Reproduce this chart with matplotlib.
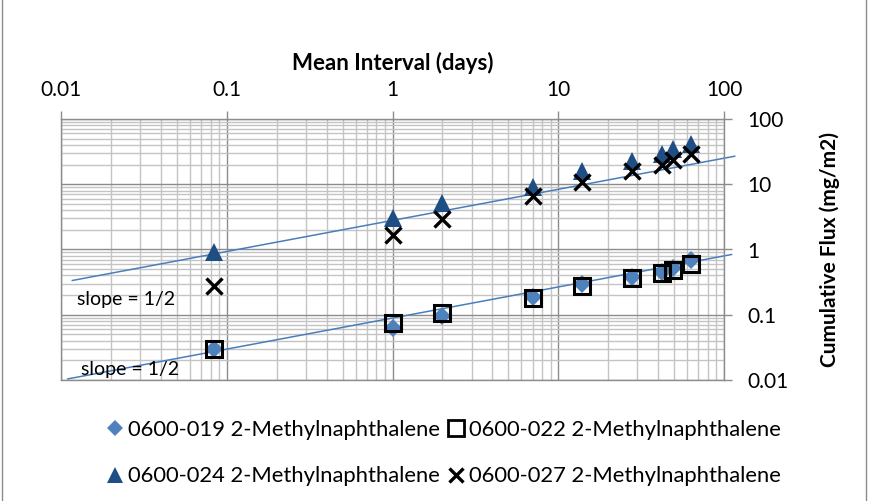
import matplotlib
matplotlib.use("Agg")
import matplotlib.pyplot as plt
from matplotlib.lines import Line2D
from matplotlib.ticker import FixedLocator, LogLocator, NullFormatter

plt.rcParams['font.family'] = ['Lato', 'DejaVu Sans']

# Mean sampling interval (days) and cumulative flux (mg/m2) per sample
interval_days = [0.0833, 1, 2, 7, 14, 28, 42, 49, 63]
flux_019 = [0.030, 0.063, 0.095, 0.188, 0.30, 0.38, 0.455, 0.52, 0.685]
flux_022 = [0.030, 0.074, 0.106, 0.18, 0.277, 0.363, 0.43, 0.49, 0.61]
flux_024 = [0.90, 3.0, 5.25, 9.0, 16.0, 23.0, 29.0, 35.0, 42.0]
flux_027 = [0.28, 1.64, 2.95, 6.56, 10.7, 15.8, 19.6, 23.9, 28.6]

series_labels = [
    "0600-019 2-Methylnaphthalene",
    "0600-022 2-Methylnaphthalene",
    "0600-024 2-Methylnaphthalene",
    "0600-027 2-Methylnaphthalene",
]

tick_values = [0.01, 0.1, 1, 10, 100]
tick_labels = ["0.01", "0.1", "1", "10", "100"]

# Half-slope reference lines (end points in data units)
guide_upper_x = [0.0117, 116.0]
guide_upper_y = [0.335, 26.9]
guide_lower_x = [0.0110, 111.0]
guide_lower_y = [0.0104, 0.838]
guide_text = "slope = 1/2"

fig = plt.figure(figsize=(8.72, 5.01), dpi=100)
ax = fig.add_axes([61 / 872, 1 - 380 / 501, 663 / 872, 261 / 501])
ax.set_xscale('log')
ax.set_yscale('log')
ax.set_xlim(0.01, 100)
ax.set_ylim(0.01, 100)

major_grid = '#8c8c8c'
minor_grid = '#c4c4c4'

ax.xaxis.set_major_locator(FixedLocator(tick_values))
ax.yaxis.set_major_locator(FixedLocator(tick_values))
ax.set_xticklabels(tick_labels)
ax.set_yticklabels(tick_labels)
ax.xaxis.set_minor_locator(LogLocator(base=10, subs=range(2, 10)))
ax.yaxis.set_minor_locator(LogLocator(base=10, subs=range(2, 10)))
ax.xaxis.set_minor_formatter(NullFormatter())
ax.yaxis.set_minor_formatter(NullFormatter())

ax.grid(which='minor', color=minor_grid, linewidth=1.0, zorder=0)
ax.grid(which='major', color=major_grid, linewidth=1.0, zorder=0)
ax.set_axisbelow(True)

for s in ax.spines.values():
    s.set_color(major_grid)
    s.set_linewidth(1.0)

ax.xaxis.tick_top()
ax.yaxis.tick_right()
ax.tick_params(which='major', direction='out', length=6, width=1.0,
               color=major_grid, labelsize=15, labelcolor='black')
ax.tick_params(axis='x', which='major', pad=8)
ax.tick_params(axis='y', which='major', pad=11)
ax.tick_params(which='minor', length=0)

ax.xaxis.set_label_position('top')
ax.set_xlabel("Mean Interval (days)", fontsize=16, fontweight='bold', labelpad=7)
ax.yaxis.set_label_position('right')
ax.set_ylabel("Cumulative Flux (mg/m2)", fontsize=15, fontweight='bold',
              labelpad=22, rotation=90)

# Series
ax.plot(interval_days, flux_019, linestyle='none', marker='D', markersize=9,
        color='#4f81bd', markeredgewidth=0, label=series_labels[0], zorder=3)
ax.plot(interval_days, flux_022, linestyle='none', marker='s', markersize=12,
        markerfacecolor='none', markeredgecolor='black', markeredgewidth=2.2,
        label=series_labels[1], zorder=4)
ax.plot(interval_days, flux_024, linestyle='none', marker='^', markersize=13,
        color='#1f4e85', markeredgewidth=0, label=series_labels[2], zorder=3)
ax.plot(interval_days, flux_027, linestyle='none', marker='x', markersize=11,
        color='black', markeredgewidth=2.4, label=series_labels[3], zorder=4)

# Guide lines
ax.plot(guide_upper_x, guide_upper_y, color='#4a7ebb', linewidth=1.1,
        clip_on=False, zorder=2)
ax.plot(guide_lower_x, guide_lower_y, color='#4a7ebb', linewidth=1.1,
        clip_on=False, zorder=2)
fig.text(126 / 872, 1 - 299 / 501, guide_text, fontsize=14, ha='center', va='center')
fig.text(130 / 872, 1 - 370 / 501, guide_text, fontsize=14, ha='center', va='center')

# Legend below the plot (row-wise: 019, 022 / 024, 027)
marker_019 = Line2D([], [], linestyle='none', marker='D', markersize=8,
                    color='#4f81bd', markeredgewidth=0)
marker_022 = Line2D([], [], linestyle='none', marker='s', markersize=11,
                    markerfacecolor='white', markeredgecolor='black',
                    markeredgewidth=2.0)
marker_024 = Line2D([], [], linestyle='none', marker='^', markersize=12,
                    color='#1f4e85', markeredgewidth=0)
marker_027 = Line2D([], [], linestyle='none', marker='x', markersize=10,
                    color='black', markeredgewidth=2.4)
handles = [marker_019, marker_024, marker_022, marker_027]
labels = [series_labels[0], series_labels[2], series_labels[1], series_labels[3]]
fig.legend(handles, labels, ncols=2, loc='upper left',
           bbox_to_anchor=(108 / 872, 1 - 420 / 501), frameon=False,
           fontsize=15.8, handlelength=0.6, handletextpad=0.32,
           columnspacing=0.4, labelspacing=1.2, borderaxespad=0, borderpad=0)

# Outer chart frame
fig.add_artist(Line2D([1.5 / 872, 1.5 / 872], [0, 1], transform=fig.transFigure,
                      color='#8c8c8c', linewidth=1.0))
fig.add_artist(Line2D([866 / 872, 866 / 872], [0, 1], transform=fig.transFigure,
                      color='#8c8c8c', linewidth=1.0))

fig.savefig("out.png", dpi=100)
